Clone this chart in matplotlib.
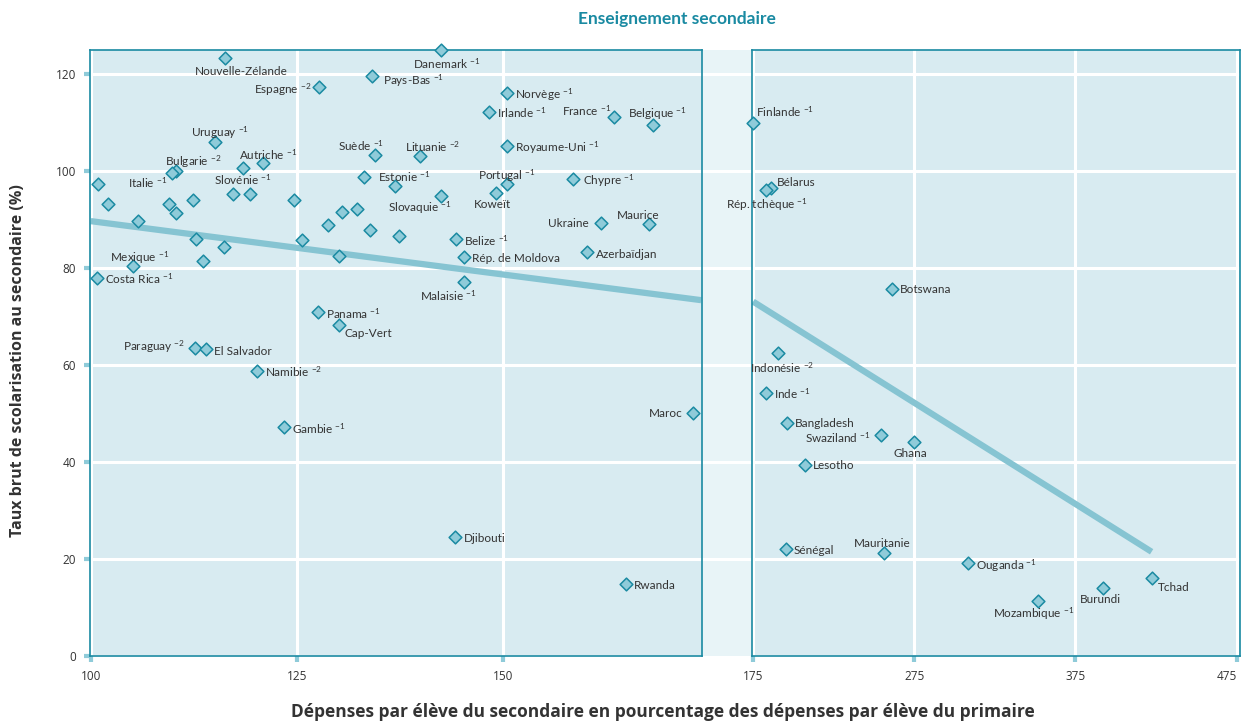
import matplotlib
matplotlib.use("Agg")
import matplotlib.pyplot as plt

plt.rcParams['font.family'] = ['Lato', 'DejaVu Sans']
plt.rcParams['mathtext.fontset'] = 'custom'
plt.rcParams['mathtext.rm'] = 'Lato'
plt.rcParams['mathtext.it'] = 'Lato:italic'
plt.rcParams['mathtext.bf'] = 'Lato:bold'

# --- data: left panel (dépenses 100-175 %) ---
left_names = ["Nouvelle-Zélande", "Danemark", "Pays-Bas", "Espagne", "Norvège", "Irlande",
              "France", "Belgique", "Uruguay", "Suède", "Lituanie", "Royaume-Uni", "Autriche",
              "Bulgarie", "Italie", "Slovénie", "Estonie", "Portugal", "Chypre", "Slovaquie",
              "Koweït", "Ukraine", "Maurice", "Belize", "Rép. de Moldova", "Azerbaïdjan",
              "Malaisie", "Mexique", "Costa Rica", "Panama", "Cap-Vert", "Paraguay",
              "El Salvador", "Namibie", "Gambie", "Djibouti", "Rwanda", "Maroc"]
left_sup = ["", "-1", "-1", "-2", "-1", "-1",
            "-1", "-1", "-1", "-1", "-2", "-1", "-1",
            "-2", "-1", "-1", "-1", "-1", "-1", "-1",
            "", "", "", "-1", "", "",
            "-1", "-1", "-1", "-1", "", "-2",
            "", "-2", "-1", "", "", ""]
left_x = [116.3, 142.5, 134.1, 127.7, 150.4, 148.3,
          163.4, 168.1, 115.0, 134.5, 139.9, 150.4, 120.9,
          110.3, 109.8, 118.4, 136.9, 150.4, 158.4, 142.5,
          149.1, 161.8, 167.7, 144.3, 145.3, 160.2,
          145.3, 105.1, 100.7, 127.5, 130.1, 112.6,
          114.0, 120.1, 123.4, 144.2, 164.9, 173.0]
left_y = [123.3, 124.9, 119.6, 117.3, 116.2, 112.3,
          111.2, 109.5, 106.0, 103.3, 103.2, 105.2, 101.6,
          100.1, 99.7, 100.6, 96.9, 97.3, 98.4, 94.9,
          95.5, 89.3, 89.1, 86.0, 82.3, 83.4,
          77.1, 80.4, 78.0, 70.9, 68.2, 63.6,
          63.4, 58.8, 47.2, 24.5, 14.8, 50.2]

# unlabelled countries, left panel
other_x = [100.9, 102.1, 105.7, 109.5, 110.3, 112.4, 117.2, 119.3, 124.6, 133.1,
           130.5, 132.3, 128.7, 133.9, 137.4, 112.8, 116.1, 113.6, 125.6, 130.1]
other_y = [97.3, 93.3, 89.8, 93.2, 91.4, 94.0, 95.4, 95.4, 94.0, 98.8,
           91.5, 92.3, 88.8, 87.8, 86.7, 86.0, 84.4, 81.4, 85.9, 82.5]

# --- data: right panel (dépenses 175-475 %) ---
right_names = ["Finlande", "Bélarus", "Rép. tchèque", "Botswana", "Indonésie", "Inde",
               "Bangladesh", "Swaziland", "Ghana", "Lesotho", "Sénégal", "Mauritanie",
               "Ouganda", "Mozambique", "Burundi", "Tchad"]
right_sup = ["-1", "", "-1", "", "-2", "-1",
             "", "-1", "", "", "", "",
             "-1", "-1", "", ""]
right_x = [175.0, 186.2, 182.9, 261.4, 190.7, 183.1,
           196.3, 254.2, 274.8, 207.2, 195.3, 256.4,
           308.1, 351.9, 391.8, 422.6]
right_y = [110.0, 96.6, 96.1, 75.8, 62.5, 54.3,
           48.1, 45.6, 44.2, 39.4, 22.0, 21.2,
           19.1, 11.4, 14.1, 16.0]

# trend lines
trend_left_x = [100, 174]
trend_left_y = [89.7, 73.4]
trend_right_x = [175.2, 422.2]
trend_right_y = [73.1, 21.5]

# label placement (offset in pixels, horizontal alignment)
place = {
    "Nouvelle-Zélande": (16, -12, "center"), "Danemark": (5, -12, "center"),
    "Pays-Bas": (11, -2, "left"), "Espagne": (-8, 0, "right"),
    "France": (-3, 7, "right"), "Belgique": (5, 14, "center"),
    "Uruguay": (5, 12, "center"), "Suède": (-14, 11, "center"),
    "Lituanie": (13, 10, "center"), "Autriche": (5, 10, "center"),
    "Bulgarie": (17, 11, "center"), "Italie": (-4, -9, "right"),
    "Slovénie": (0, -10, "center"), "Estonie": (9, 11, "center"),
    "Portugal": (0, 11, "center"), "Chypre": (10, 0, "left"),
    "Slovaquie": (-21, -10, "center"), "Koweït": (-3, -10, "center"),
    "Ukraine": (-12, 1, "right"), "Maurice": (-11, 10, "center"),
    "Azerbaïdjan": (9, -2, "left"), "Malaisie": (-16, -12, "center"),
    "Mexique": (7, 11, "center"), "Cap-Vert": (5, -7, "left"),
    "Paraguay": (-10, 3, "right"), "El Salvador": (8, -2, "left"),
    "Maroc": (-10, 0, "right"),
    "Finlande": (3, 12, "left"), "Bélarus": (6, 6, "left"),
    "Rép. tchèque": (1, -12, "center"), "Indonésie": (4, -13, "center"),
    "Swaziland": (-10, -2, "right"), "Ghana": (-3, -11, "center"),
    "Mauritanie": (-2, 11, "center"), "Mozambique": (-5, -11, "center"),
    "Burundi": (-2, -11, "center"), "Tchad": (6, -8, "left"),
}

teal = "#1a8aa2"
face = "#d8ebf1"
gap = "#e8f4f7"
mk_face = "#8fcbd9"
trend_c = "#86c4d2"
txt_c = "#333333"
axis_font = ['Open Sans', 'DejaVu Sans']

W, H = 1243, 721
fig = plt.figure(figsize=(W / 100, H / 100), dpi=100)

def frac(x0, x1, y0=50, y1=656):
    return [x0 / W, 1 - y1 / H, (x1 - x0) / W, (y1 - y0) / H]

ymax = 125

# background strip (shows between the two panels)
bg = fig.add_axes(frac(90, 1240))
bg.set_facecolor(gap)
bg.set_ylim(0, ymax)
bg.set_yticks(range(20, 121, 20))
bg.set_xticks([])
bg.tick_params(left=False, labelleft=False)
bg.grid(True, axis='y', color='white', lw=2.2)
for s in bg.spines.values():
    s.set_visible(False)

axl = fig.add_axes(frac(90, 702))
axr = fig.add_axes(frac(752, 1240))

for ax in (axl, axr):
    ax.set_facecolor(face)
    ax.set_ylim(0, ymax)
    ax.set_yticks(range(0, 121, 20))
    ax.grid(True, color='white', lw=2.2)
    ax.set_axisbelow(True)
    for s in ax.spines.values():
        s.set_color(teal)
        s.set_linewidth(1.2)
    ax.tick_params(direction='out', length=4, width=3, color='#8fcbd9',
                   labelsize=8.5, labelcolor=txt_c, pad=6)

axl.set_xlim(99.9, 174.1)
axl.set_xticks([100, 125, 150])
axr.set_xlim(174.5, 477)
axr.set_xticks([175, 275, 375, 475])
axr.tick_params(left=False, labelleft=False)

for ax in (axl, axr):
    for lab in ax.get_xticklabels() + ax.get_yticklabels():
        lab.set_family(axis_font)
axr.get_xticklabels()[-1].set_horizontalalignment('right')

axl.plot(trend_left_x, trend_left_y, color=trend_c, lw=4.5, solid_capstyle='butt', zorder=2)
axr.plot(trend_right_x, trend_right_y, color=trend_c, lw=4.5, solid_capstyle='butt', zorder=2)

mk = dict(marker='D', s=42, facecolor=mk_face, edgecolor=teal, linewidths=1.1,
          zorder=4, clip_on=False)
axl.scatter(other_x, other_y, **mk)
axl.scatter(left_x, left_y, **mk)
axr.scatter(right_x, right_y, **mk)

def add_labels(ax, xs, ys, names, sups):
    for x, y, n, sp in zip(xs, ys, names, sups):
        dx, dy, ha = place.get(n, (8, 0, "left"))
        t = n if not sp else n + " $^{" + sp + "}$"
        ax.annotate(t, (x, y), xytext=(dx, dy), textcoords='offset pixels',
                    ha=ha, va='center_baseline', fontsize=8.5, color=txt_c, zorder=5)

add_labels(axl, left_x, left_y, left_names, left_sup)
add_labels(axr, right_x, right_y, right_names, right_sup)

fig.text(677 / W, 1 - 19 / H, "Enseignement secondaire", ha='center', va='center',
         fontsize=12.5, fontweight='bold', color=teal)
fig.text(663 / W, 1 - 712 / H,
         "Dépenses par élève du secondaire en pourcentage des dépenses par élève du primaire",
         ha='center', va='center', fontsize=12.5, fontweight='bold', color=txt_c,
         family=axis_font)
fig.text(18 / W, 1 - 361 / H, "Taux brut de scolarisation au secondaire (%)",
         ha='center', va='center', rotation=90, fontsize=11.5, fontweight='bold', color=txt_c,
         family=axis_font)

fig.savefig("out.png", dpi=100)
